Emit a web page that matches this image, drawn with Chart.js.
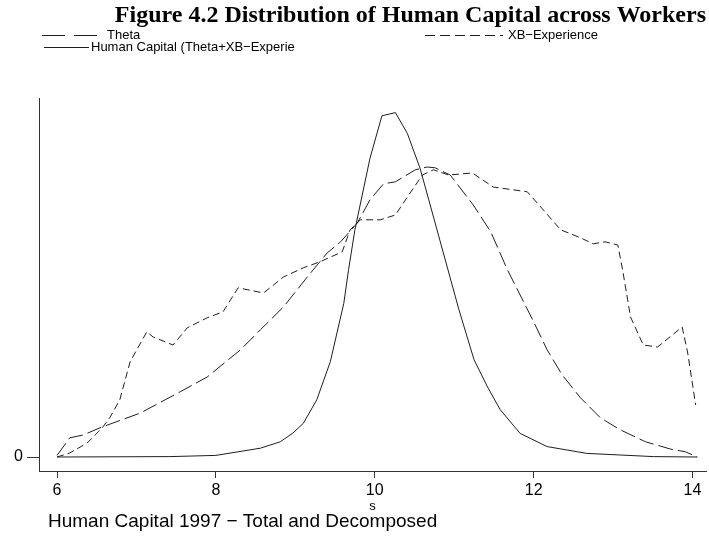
<!DOCTYPE html>
<html>
<head>
<meta charset="utf-8">
<script src="https://cdn.jsdelivr.net/npm/chart.js@4.4.0/dist/chart.umd.min.js"></script>
<style>
  html, body { margin: 0; padding: 0; background: #fff; }
</style>
</head>
<body>
<canvas id="chart" width="709" height="536"></canvas>
<script>
// values (density, arbitrary units)
const thetaX = [6.00, 6.16, 6.33, 6.54, 7.05, 7.55, 7.89, 8.31, 8.56, 8.85, 9.15, 9.40, 9.57, 9.78, 9.94, 10.11, 10.26, 10.51, 10.66, 10.76, 10.95, 11.24, 11.46, 11.67, 11.83, 12.00, 12.17, 12.36, 12.59, 12.84, 13.09, 13.41, 13.72, 13.91, 14.06];
const thetaY = [0.004, 0.048, 0.055, 0.073, 0.110, 0.163, 0.200, 0.268, 0.318, 0.375, 0.450, 0.510, 0.538, 0.585, 0.643, 0.683, 0.688, 0.718, 0.725, 0.723, 0.705, 0.630, 0.563, 0.468, 0.405, 0.338, 0.268, 0.205, 0.148, 0.098, 0.068, 0.038, 0.020, 0.013, 0.000];

const xbX = [6.00, 6.16, 6.38, 6.57, 6.67, 6.79, 6.92, 7.13, 7.21, 7.46, 7.64, 7.89, 8.09, 8.28, 8.60, 8.85, 9.10, 9.31, 9.59, 9.69, 9.82, 10.07, 10.26, 10.41, 10.60, 10.74, 10.93, 11.23, 11.49, 11.92, 12.09, 12.34, 12.59, 12.75, 12.90, 13.06, 13.12, 13.22, 13.38, 13.56, 13.87, 13.94, 14.04];
const xbY = [0.000, 0.010, 0.035, 0.073, 0.100, 0.143, 0.238, 0.313, 0.300, 0.280, 0.323, 0.348, 0.363, 0.423, 0.410, 0.450, 0.473, 0.488, 0.513, 0.568, 0.593, 0.593, 0.605, 0.650, 0.705, 0.718, 0.705, 0.710, 0.675, 0.663, 0.625, 0.568, 0.548, 0.533, 0.538, 0.530, 0.468, 0.350, 0.280, 0.275, 0.325, 0.260, 0.130];

const hcX = [6.00, 7.42, 8.00, 8.56, 8.81, 8.97, 9.10, 9.27, 9.44, 9.61, 9.67, 9.75, 9.94, 10.09, 10.26, 10.41, 10.57, 10.68, 11.06, 11.25, 11.42, 11.58, 11.83, 12.17, 12.67, 13.51, 14.06];
const hcY = [0.000, 0.001, 0.004, 0.022, 0.038, 0.060, 0.084, 0.143, 0.238, 0.384, 0.468, 0.568, 0.747, 0.853, 0.861, 0.809, 0.722, 0.643, 0.368, 0.243, 0.175, 0.118, 0.059, 0.026, 0.009, 0.001, 0.000];

const seriesLabels = ['Theta', 'XB\u2212Experience', 'Human Capital (Theta+XB\u2212Experie'];
const xTicks = [6, 8, 10, 12, 14];
const yTicks = [0];

const lineColor = '#1e1e1e';

function toPoints(xs, ys) {
  return xs.map((x, i) => ({ x: x, y: ys[i] }));
}

// stata-style legend (two columns) and note under the axis
const legendAndNote = {
  id: 'legendAndNote',
  afterDraw(chart) {
    const ctx = chart.ctx;
    const spots = [
      { ds: 0, x0: 42, x1: 100, tx: 107, y: 35, dash: [23, 9] },
      { ds: 1, x0: 425, x1: 503, tx: 508, y: 35, dash: [10, 5] },
      { ds: 2, x0: 44, x1: 89, tx: 91, y: 47, dash: [] }
    ];
    ctx.save();
    ctx.lineWidth = 1;
    ctx.strokeStyle = lineColor;
    ctx.fillStyle = '#000';
    ctx.font = '13px "Liberation Sans", Arial, sans-serif';
    ctx.textBaseline = 'middle';
    ctx.textAlign = 'left';
    spots.forEach(s => {
      ctx.setLineDash(s.dash);
      ctx.beginPath();
      ctx.moveTo(s.x0, s.y + 0.5);
      ctx.lineTo(s.x1, s.y + 0.5);
      ctx.stroke();
      ctx.fillText(chart.data.datasets[s.ds].label, s.tx, s.y);
    });
    ctx.setLineDash([]);
    ctx.font = '19px "Liberation Sans", Arial, sans-serif';
    ctx.fillText('Human Capital 1997 \u2212 Total and Decomposed', 48, 522);
    ctx.restore();
  }
};

new Chart(document.getElementById('chart'), {
  type: 'line',
  data: {
    datasets: [
      { label: seriesLabels[0], data: toPoints(thetaX, thetaY), borderDash: [15, 5] },
      { label: seriesLabels[1], data: toPoints(xbX, xbY), borderDash: [7, 4] },
      { label: seriesLabels[2], data: toPoints(hcX, hcY), borderDash: [] }
    ].map(d => Object.assign(d, {
      borderColor: lineColor, borderWidth: 1, pointRadius: 0, tension: 0, fill: false
    }))
  },
  options: {
    responsive: false,
    animation: false,
    layout: { padding: { left: 0, right: 3, top: 0, bottom: 0 } },
    plugins: {
      legend: { display: false },
      tooltip: { enabled: false },
      title: {
        display: true,
        text: 'Figure 4.2 Distribution of Human Capital across Workers',
        align: 'end',
        color: '#000',
        font: { family: '"Liberation Serif", "Times New Roman", serif', size: 24, weight: 'bold' },
        padding: { top: 1, bottom: 68.2 }
      }
    },
    scales: {
      x: {
        type: 'linear',
        min: 5.773,
        max: 14.17,
        afterBuildTicks: s => { s.ticks = xTicks.map(v => ({ value: v })); },
        afterFit: s => { s.height = 65; },
        grid: { display: true, drawOnChartArea: false, drawTicks: true, tickLength: 7, color: '#333' },
        border: { display: true, color: '#333', width: 1 },
        ticks: { color: '#000', padding: 3, maxRotation: 0, font: { family: '"Liberation Sans", Arial, sans-serif', size: 16 } },
        title: { display: true, text: 's', color: '#000', font: { family: '"Liberation Sans", Arial, sans-serif', size: 13 }, padding: { top: 0, bottom: 22 } }
      },
      y: {
        type: 'linear',
        min: -0.035,
        max: 0.8975,
        afterBuildTicks: s => { s.ticks = yTicks.map(v => ({ value: v })); },
        afterFit: s => { s.width = 39; },
        grid: { display: true, drawOnChartArea: false, drawTicks: true, tickLength: 12, color: '#333' },
        border: { display: true, color: '#333', width: 1 },
        ticks: { color: '#000', padding: 4, font: { family: '"Liberation Sans", Arial, sans-serif', size: 16 } }
      }
    }
  },
  plugins: [legendAndNote]
});
</script>
</body>
</html>
